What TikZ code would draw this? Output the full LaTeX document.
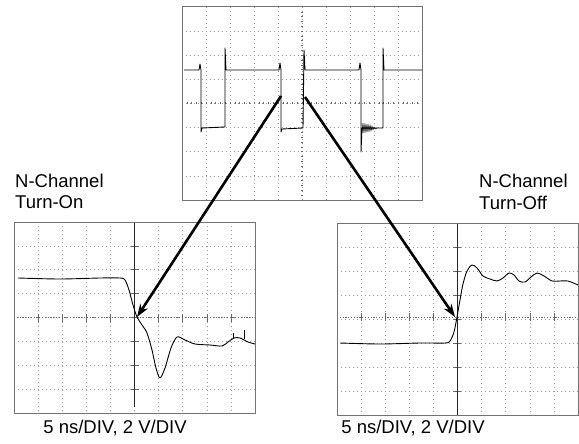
\documentclass[tikz,border=0pt]{standalone}
\usepackage{fontspec}
\setmainfont{Liberation Sans}
\usetikzlibrary{arrows.meta}
\begin{document}
\begin{tikzpicture}[x=1pt,y=-1pt,
  frame/.style={draw=black!55, line width=1pt},
  gridln/.style={draw=black!40, line width=0.6pt, dash pattern=on 0.7pt off 3.3pt},
  axisln/.style={draw=black!60, line width=0.6pt, dash pattern=on 1.2pt off 1.6pt},
  tickln/.style={draw=black!60, line width=0.6pt},
  solidaxis/.style={draw=black!85, line width=0.8pt},
  wave/.style={draw=black, line width=0.9pt, line join=round},
  ring/.style={draw=black, line width=0.6pt, line join=round},
  pointer/.style={draw=black, line width=2.6pt, -{Stealth[length=13pt,width=9pt]}},
  lbl/.style={inner sep=0pt, font=\fontsize{18.5}{21}\selectfont}]
\useasboundingbox (0,0) rectangle (579,444);

% ---------- top screen ----------
\foreach \i in {1,...,9} \draw[gridln] ({182+24*\i},7) -- ({182+24*\i},200);
\foreach \j in {1,...,7} \draw[gridln] (182,{7+24.125*\j}) -- (422,{7+24.125*\j});
\foreach \k in {1,...,49} \draw[tickln] ({182+4.8*\k},102.5) -- ({182+4.8*\k},104.5);
\foreach \k in {1,...,39} \draw[tickln] (301,{7+4.825*\k}) -- (303,{7+4.825*\k});
\draw[frame] (182,7) rectangle (422,200);
\draw[wave] (184,70) -- (199,70) -- (200,64) -- (201,70) -- (201,132) -- (202,128) -- (225,127)
  -- (225,48) -- (226,70) -- (279,70) -- (280,63) -- (281,70) -- (281,132) -- (282,129) -- (303,128)
  -- (304,50) -- (305,70) -- (359,70) -- (360,63) -- (361,70) -- (361,152) -- (362,128) -- (383,128)
  -- (383,48) -- (384,70) -- (422,70);
\draw[ring] (362,123) -- (363,133) -- (364,123.5) -- (365,132.5) -- (366,124) -- (367,132)
  -- (368,124.5) -- (369,131.5) -- (370,125) -- (371,131) -- (372,126) -- (373,130) -- (374,127)
  -- (375,129) -- (377,128);

% ---------- bottom-left screen ----------
\foreach \i in {1,...,9} \draw[gridln] ({14+24.1*\i},222) -- ({14+24.1*\i},413);
\foreach \j in {1,...,7} \draw[gridln] (14,{222+23.875*\j}) -- (255,{222+23.875*\j});
\draw[axisln] (14,317.5) -- (255,317.5);
\foreach \i in {1,...,9} \draw[tickln] ({14+24.1*\i},313.5) -- ({14+24.1*\i},321.5);
\foreach \j in {1,...,7} \draw[tickln] (130.5,{222+23.875*\j}) -- (138.5,{222+23.875*\j});
\draw[solidaxis] (134.5,223) -- (134.5,407);
\draw[frame] (14,222) rectangle (255,413);
\draw[wave] plot[smooth, tension=0.5] coordinates {(18,278) (60,279) (100,278) (120,278) (125,280)
  (129,290) (133,305) (137,317) (142,325) (147,333) (152,350) (156,368) (160,378) (165,368)
  (171,348) (177,337) (185,340) (195,344) (210,345) (222,346) (228,342) (234,338) (240,338)
  (248,342) (255,344)};
\draw[wave] (233,339) -- (233,333);
\draw[wave] (244,339) -- (244,330);

% ---------- bottom-right screen ----------
\foreach \i in {1,...,9} \draw[gridln] ({337+24.1*\i},223) -- ({337+24.1*\i},415);
\foreach \j in {1,...,7} \draw[gridln] (337,{223+24*\j}) -- (578,{223+24*\j});
\draw[axisln] (337,317) -- (578,317);
\foreach \i in {1,...,9} \draw[tickln] ({337+24.1*\i},313) -- ({337+24.1*\i},321);
\foreach \j in {1,...,7} \draw[tickln] (453,{223+24*\j}) -- (461,{223+24*\j});
\draw[solidaxis] (457,223) -- (457,415);
\draw[frame] (337,223) rectangle (578,415);
\draw[wave] plot[smooth, tension=0.5] coordinates {(340,343) (380,344) (420,343) (445,343) (450,341)
  (454,332) (457,317) (460,300) (463,284) (467,271) (472,265) (477,268) (483,276) (490,279)
  (497,281) (503,278) (509,273) (514,275) (519,281) (525,282) (531,277) (537,273) (544,276)
  (552,281) (560,281) (568,281) (578,285)};

% ---------- labels ----------
\node[lbl, anchor=base west] (onA) at (15,187) {N-Channel};
\node[lbl, anchor=base west] (onB) at (15,208) {Turn-On};
\node[lbl, anchor=base west] (offA) at (479,187) {N-Channel};
\node[lbl, anchor=base west] (offB) at (479,209) {Turn-Off};
\node[lbl, anchor=base] (scaleL) at (115,433) {5 ns/DIV, 2 V/DIV};
\node[lbl, anchor=base] (scaleR) at (413,433) {5 ns/DIV, 2 V/DIV};

% ---------- pointers ----------
\coordinate (onSrc) at (281,96);
\coordinate (onTip) at (137,317);
\coordinate (offSrc) at (305,97);
\coordinate (offTip) at (455,317);
\draw[pointer] (onSrc) -- (onTip);
\draw[pointer] (offSrc) -- (offTip);
\end{tikzpicture}
\end{document}
